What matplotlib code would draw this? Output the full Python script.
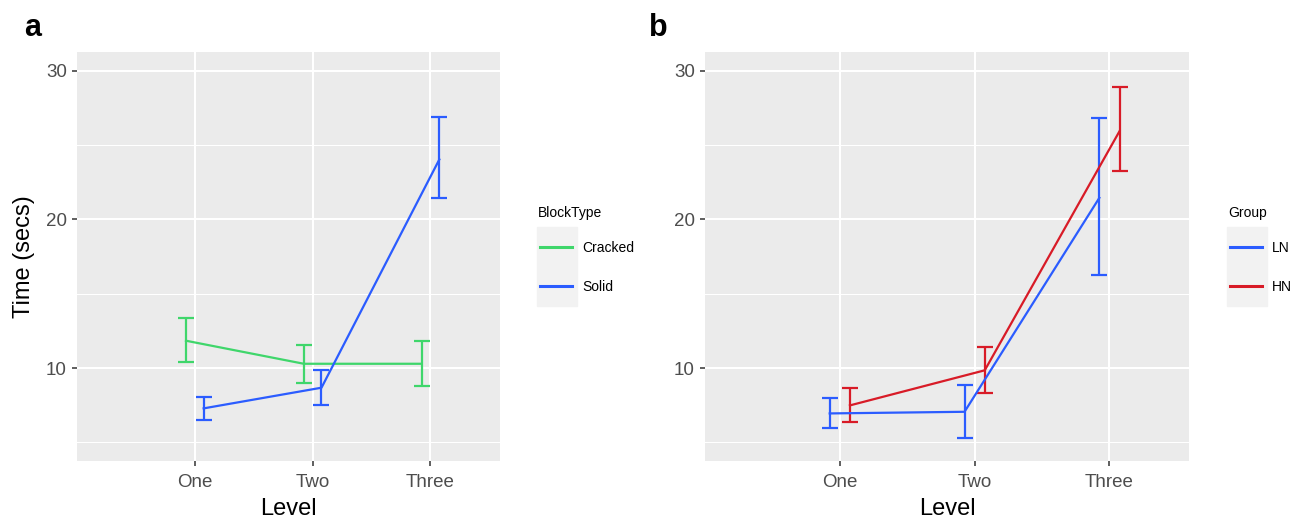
import matplotlib
matplotlib.use("Agg")
import matplotlib.pyplot as plt
from matplotlib.patches import Rectangle
import numpy as np

plt.rcParams['font.family'] = ['Liberation Sans', 'DejaVu Sans']

levels = ['One', 'Two', 'Three']

# panel a: BlockType
cracked_mean = [11.84, 10.29, 10.29]
cracked_lo = [10.38, 9.01, 8.77]
cracked_hi = [13.34, 11.57, 11.84]
solid_mean = [7.29, 8.68, 24.03]
solid_lo = [6.50, 7.51, 21.41]
solid_hi = [8.03, 9.87, 26.86]

# panel b: Group
ln_mean = [6.95, 7.06, 21.45]
ln_lo = [5.94, 5.31, 16.23]
ln_hi = [7.98, 8.84, 26.79]
hn_mean = [7.49, 9.85, 25.94]
hn_lo = [6.35, 8.32, 23.23]
hn_hi = [8.66, 11.39, 28.88]

green = '#3FD66B'
blue = '#2B5CFF'
red = '#D81B27'
bg = '#EBEBEB'

W, H = 1306, 520
fig = plt.figure(figsize=(W / 100, H / 100), dpi=100)


def fx(px):
    return px / W


def fy(py):
    return 1 - py / H


def style_axes(ax):
    ax.set_facecolor(bg)
    for s in ax.spines.values():
        s.set_visible(False)
    ax.set_xlim(0, 3.59)
    ax.set_ylim(3.75, 31.26)
    ax.set_xticks([1, 2, 3])
    ax.set_xticklabels(levels)
    ax.set_yticks([10, 20, 30])
    ax.set_yticks([5, 15, 25], minor=True)
    ax.grid(which='major', color='white', lw=1.5)
    ax.grid(which='minor', color='white', lw=0.75)
    ax.set_axisbelow(True)
    ax.tick_params(which='major', length=3.4, width=1.1, color='#333333',
                   labelcolor='#4D4D4D', labelsize=13.5, pad=4)
    ax.tick_params(axis='x', which='major', pad=6)
    ax.tick_params(which='minor', length=0)
    ax.set_xlabel('Level', fontsize=17, labelpad=5)


def draw(ax, x, mean, lo, hi, color, label, cap):
    x = np.asarray(x)
    mean = np.asarray(mean)
    err = [mean - np.asarray(lo), np.asarray(hi) - mean]
    ax.errorbar(x, mean, yerr=err, color=color, lw=1.6, capsize=cap,
                capthick=1.6, elinewidth=1.6, label=label)


pos = np.array([1, 2, 3])
d = 0.075

ax1 = fig.add_axes([fx(77), fy(461), fx(500 - 77), (461 - 52) / H])
style_axes(ax1)
draw(ax1, pos - d, cracked_mean, cracked_lo, cracked_hi, green, 'Cracked', 5.5)
draw(ax1, pos + d, solid_mean, solid_lo, solid_hi, blue, 'Solid', 5.5)
ax1.set_ylabel('Time (secs)', fontsize=17, labelpad=8)

ax2 = fig.add_axes([fx(705), fy(461), fx(1189 - 705), (461 - 52) / H])
style_axes(ax2)
draw(ax2, pos - d, ln_mean, ln_lo, ln_hi, blue, 'LN', 6)
draw(ax2, pos + d, hn_mean, hn_lo, hn_hi, red, 'HN', 6)

# legends
for ax, x0, title in [(ax1, 537, 'BlockType'), (ax2, 1227, 'Group')]:
    fig.patches.append(Rectangle((fx(x0), fy(306)), fx(40), 79 / H,
                                 transform=fig.transFigure, color='#F2F2F2', zorder=-1))
    fig.text(fx(x0 + 1), fy(213), title, fontsize=10, va='center', ha='left')
    handles, labels = ax.get_legend_handles_labels()
    handles = [h[0] for h in handles]
    leg = ax.legend(handles, labels, loc='upper left',
                    bbox_to_anchor=(fx(x0 + 3), fy(240.5)), bbox_transform=fig.transFigure,
                    frameon=False, fontsize=10, borderpad=0,
                    borderaxespad=0, handlelength=2.3, handletextpad=0.75,
                    labelspacing=1.85)
    for line in leg.get_lines():
        line.set_linewidth(2.2)

fig.text(fx(24), fy(36), 'a', fontsize=22, fontweight='bold')
fig.text(fx(649), fy(36), 'b', fontsize=22, fontweight='bold')

fig.savefig('out.png', dpi=100)
